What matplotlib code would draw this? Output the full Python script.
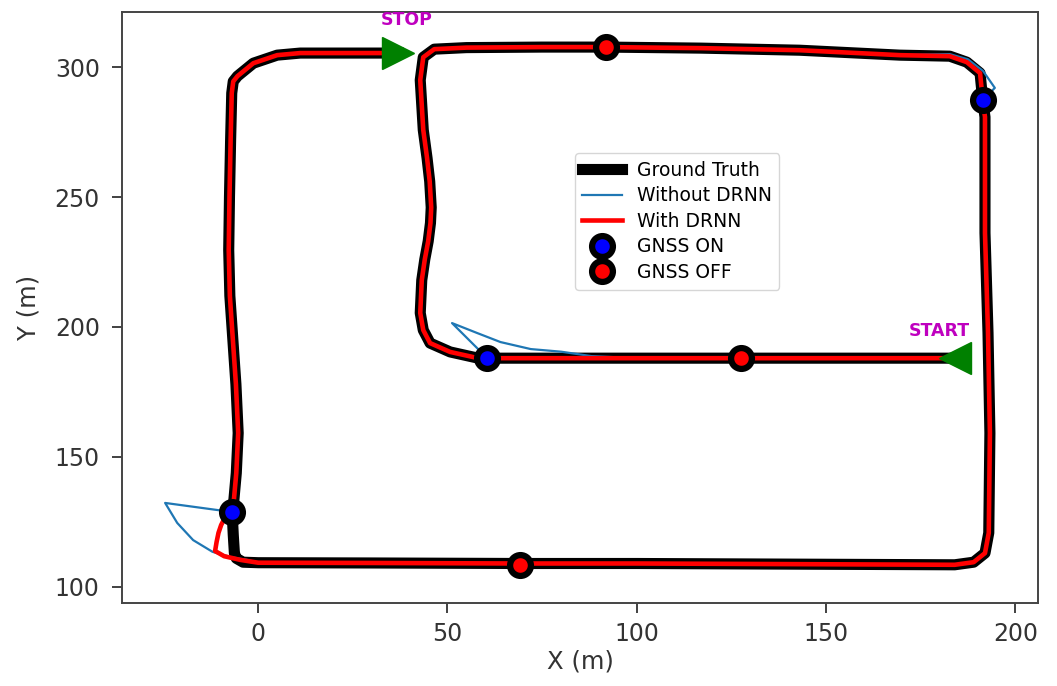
import numpy as np
import matplotlib
matplotlib.use('Agg')
import matplotlib.pyplot as plt

# ground truth track, in driving order (START -> STOP)
gt_x = [184, 150, 127.5, 100, 80, 60.5, 57.8, 50.7, 45.4, 43.6, 42.8, 43.2,
        44.0, 44.9, 45.5, 45.7, 45.3, 44.6, 43.6, 42.8, 43.6, 46.5, 55, 75, 92, 117, 143,
        169.5, 182.7, 187.2, 190.7, 191.4, 192, 192, 192.8, 193.3, 193,
        192, 189, 184, 150, 100, 69.2, 30, 0, -4, -5.8, -6.3, -6.6, -6.9,
        -6.6, -5.8, -5.3, -5.9, -6.7, -7.5, -7.8, -7.6, -7.3, -7.0, -6.6, -5.5, -1.3,
        5, 11.1, 20, 33, 37]
gt_y = [188, 188, 188, 188, 188, 188, 188.1, 190.4, 193.8, 198.8, 205.4, 218,
        226, 233, 240, 246, 256, 265, 275.8, 295, 303.8, 306.9, 307.5, 307.7, 307.7, 307.3, 306.5,
        304.6, 304.2, 301.9, 297.7, 287.3, 280.8, 236.2, 197.7, 159.2, 120.8,
        113, 109.5, 108.5, 108.7, 109, 109, 109.2, 109.3, 109.5, 111, 113, 120, 128.8,
        130.8, 143.8, 159.2, 178, 195, 212, 229.6, 250, 271.9, 290, 294.5, 296.5, 301.5,
        304.6, 305.4, 305.4, 305.4, 305.4]

# "Without DRNN" drift before each GNSS ON fix
blue_glitch1_x = [88, 80, 72, 64, 57.8, 51.2]
blue_glitch1_y = [188.8, 190.5, 191.5, 194.2, 197.7, 201.5]
blue_glitch2_x = [182.7, 187.5, 191.5, 194.6]
blue_glitch2_y = [305.0, 303.0, 298.5, 292.0]
blue_glitch3_x = [-3, -7.4, -12.1, -17.2, -21.4, -24.6]
blue_glitch3_y = [110.4, 111.5, 113.5, 118, 124.6, 132.3]

# "With DRNN" small drift at the bottom-left fix
red_glitch_x = [-4.8, -9, -11.4, -11.0, -10.5, -9.8, -8.5]
red_glitch_y = [110.4, 111.8, 113.8, 117.3, 120.8, 123.8, 127.5]

gnss_on_x = [60.5, 191.4, -6.9]
gnss_on_y = [188, 287.3, 128.8]
gnss_off_x = [127.5, 92, 69.2]
gnss_off_y = [188, 307.7, 108.5]

start_xy = (184, 188)
stop_xy = (37, 305.4)

gx = np.array(gt_x)
gy = np.array(gt_y)

# indices into the ground truth where the estimates drift away / get fixed
i_pre1, i_on1 = 3, 5       # (100, 188) -> ON at (60.5, 188)
i_pre2, i_on2 = 28, 31     # (182.7, 304.2) -> ON at (191.4, 287.3)
i_pre3, i_on3 = 44, 49     # (0, 109.3) -> ON at (-6.9, 128.8)

blue_x = (list(gx[:i_pre1 + 1]) + blue_glitch1_x + list(gx[i_on1:i_pre2])
          + blue_glitch2_x + list(gx[i_on2:i_pre3 + 1]) + blue_glitch3_x
          + list(gx[i_on3:]))
blue_y = (list(gy[:i_pre1 + 1]) + blue_glitch1_y + list(gy[i_on1:i_pre2])
          + blue_glitch2_y + list(gy[i_on2:i_pre3 + 1]) + blue_glitch3_y
          + list(gy[i_on3:]))

red_x = list(gx[:i_pre3 + 1]) + red_glitch_x + list(gx[i_on3:])
red_y = list(gy[:i_pre3 + 1]) + red_glitch_y + list(gy[i_on3:])

fig = plt.figure(figsize=(10.57, 6.86), dpi=100)
ax = fig.add_axes([0.1154, 0.121, 0.8666, 0.8615])

ax.plot(gx, gy, color='black', lw=8, label='Ground Truth', zorder=2,
        solid_joinstyle='round')
ax.plot(blue_x, blue_y, color='#1f77b4', lw=1.6, label='Without DRNN', zorder=3)
ax.plot(red_x, red_y, color='red', lw=3.3, label='With DRNN', zorder=4,
        solid_joinstyle='round')

ax.plot(gnss_on_x, gnss_on_y, 'o', color='blue', ms=15, mec='black', mew=4.5,
        ls='none', label='GNSS ON', zorder=6)
ax.plot(gnss_off_x, gnss_off_y, 'o', color='red', ms=15, mec='black', mew=4.5,
        ls='none', label='GNSS OFF', zorder=6)

ax.plot(*start_xy, '<', color='green', ms=23, zorder=5)
ax.plot(*stop_xy, '>', color='green', ms=23, zorder=5)
ax.text(start_xy[0] - 4, start_xy[1] + 10.5, 'START', color='m', fontsize=12.5,
        fontweight='bold', ha='center', va='center')
ax.text(stop_xy[0] + 2.3, stop_xy[1] + 12.6, 'STOP', color='m', fontsize=12.5,
        fontweight='bold', ha='center', va='center')

ax.set_xlim(-36, 206)
ax.set_ylim(93.8, 321.2)
ax.set_xticks([0, 50, 100, 150, 200])
ax.set_yticks([100, 150, 200, 250, 300])
ax.tick_params(labelsize=17, length=7, width=1.3, pad=7, colors='#333333')
ax.tick_params(axis='y', pad=9)
for s in ax.spines.values():
    s.set_color('#444444')
    s.set_linewidth(1.4)
ax.set_xlabel('X (m)', fontsize=17.5, color='#333333', labelpad=2)
ax.set_ylabel('Y (m)', fontsize=17.5, color='#333333', labelpad=10)

ax.legend(loc='upper left', bbox_to_anchor=(0.4945, 0.761), borderaxespad=0,
          fontsize=13.5, handlelength=2.1, labelspacing=0.35)

fig.savefig('out.png', dpi=100)
